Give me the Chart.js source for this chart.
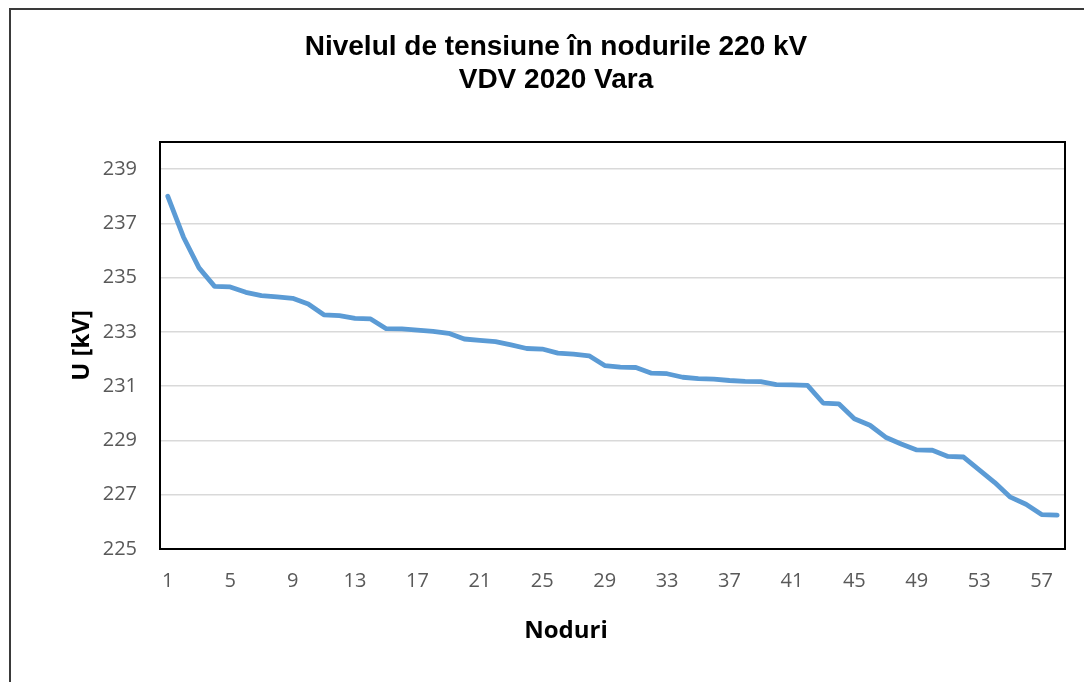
<!DOCTYPE html>
<html>
<head>
<meta charset="utf-8">
<script src="https://cdn.jsdelivr.net/npm/chart.js@4.4.1/dist/chart.umd.min.js"></script>
<style>
    html, body { margin: 0; padding: 0; background: #fff; overflow: hidden; }
    #wrap {
        position: absolute;
        left: 9px;
        top: 8px;
        width: 1090px;
        height: 698px;
        border-left: 2px solid #3a3a3a;
        border-top: 2px solid #3a3a3a;
    }
</style>
</head>
<body>
<div id="wrap">
    <canvas id="lineChart" width="1090" height="698"></canvas>
</div>

<script>
// =====================
// DATA
// =====================
const noduri = [
    '1', '2', '3', '4', '5', '6', '7', '8', '9', '10',
    '11', '12', '13', '14', '15', '16', '17', '18', '19', '20',
    '21', '22', '23', '24', '25', '26', '27', '28', '29', '30',
    '31', '32', '33', '34', '35', '36', '37', '38', '39', '40',
    '41', '42', '43', '44', '45', '46', '47', '48', '49', '50',
    '51', '52', '53', '54', '55', '56', '57', '58'
];

const tensiune = [
    238.00, 236.50, 235.36, 234.68, 234.66, 234.46, 234.34, 234.29, 234.24, 234.03,
    233.63, 233.60, 233.50, 233.48, 233.12, 233.11, 233.07, 233.02, 232.95, 232.74,
    232.69, 232.64, 232.52, 232.39, 232.37, 232.22, 232.18, 232.12, 231.76, 231.70,
    231.69, 231.48, 231.46, 231.33, 231.28, 231.26, 231.21, 231.18, 231.17, 231.06,
    231.05, 231.03, 230.38, 230.35, 229.80, 229.56, 229.12, 228.87, 228.65, 228.64,
    228.41, 228.39, 227.92, 227.45, 226.91, 226.65, 226.27, 226.25
];

const yTicks = [225, 227, 229, 231, 233, 235, 237, 239];
const titleLines = ['Nivelul de tensiune în nodurile 220 kV', 'VDV 2020 Vara'];

// =====================
// PLUGINS
// =====================
const plotFrame = {
    id: 'plotFrame',
    afterDraw(chart) {
        const { ctx, chartArea: a } = chart;
        ctx.save();
        ctx.strokeStyle = '#000';
        ctx.lineWidth = 2;
        ctx.strokeRect(a.left, a.top, a.right - a.left, a.bottom - a.top);

        // x axis title (Excel places it off the plot centre)
        ctx.fillStyle = '#000';
        ctx.font = 'bold 24px "Open Sans"';
        ctx.textAlign = 'center';
        ctx.textBaseline = 'middle';
        ctx.fillText('Noduri', 555, 621);
        ctx.restore();
    }
};

// =====================
// RENDER CHART
// =====================
const ctx = document.getElementById('lineChart').getContext('2d');

new Chart(ctx, {
    type: 'line',
    data: {
        labels: noduri,
        datasets: [{
            data: tensiune,
            borderColor: '#5b9bd5',
            borderWidth: 4.8,
            borderCapStyle: 'round',
            borderJoinStyle: 'round',
            pointRadius: 0,
            tension: 0,
            fill: false,
        }]
    },
    options: {
        responsive: false,
        animation: false,
        layout: { padding: 0 },
        plugins: {
            legend: { display: false },
            tooltip: { enabled: false },
            title: {
                display: true,
                text: titleLines,
                color: '#000',
                font: { family: '"Liberation Sans", Arial', size: 28, weight: 'bold', lineHeight: 33 / 28 },
                padding: { top: 20.5, bottom: 45.5 },
            }
        },
        scales: {
            x: {
                offset: true,
                grid: { display: false, drawTicks: false },
                border: { display: false },
                ticks: {
                    autoSkip: false,
                    maxRotation: 0,
                    padding: 20,
                    color: '#595959',
                    font: { family: '"Open Sans"', size: 20 },
                    callback: function (val, i) {
                        return i % 4 === 0 ? this.getLabelForValue(val) : '';
                    }
                },
                afterFit: scale => { scale.height = 159; }
            },
            y: {
                min: 225,
                max: 240,
                afterBuildTicks: scale => {
                    scale.ticks = yTicks.map(v => ({ value: v }));
                },
                grid: { color: '#d9d9d9', lineWidth: 1.5, drawTicks: false },
                border: { display: false },
                ticks: {
                    padding: 23,
                    color: '#595959',
                    font: { family: '"Open Sans"', size: 20 },
                },
                title: {
                    display: true,
                    text: 'U [kV]',
                    color: '#000',
                    font: { family: '"Open Sans"', size: 24, weight: 'bold' },
                    padding: { top: 57, bottom: 0 },
                },
                afterFit: scale => { scale.width = 149; }
            },
            // empty right-hand strip so the title stays centred on the whole canvas
            yRight: {
                position: 'right',
                display: true,
                grid: { display: false, drawTicks: false },
                border: { display: false },
                ticks: { display: false },
                afterFit: scale => { scale.width = 36; }
            }
        }
    },
    plugins: [plotFrame]
});
</script>
</body>
</html>
